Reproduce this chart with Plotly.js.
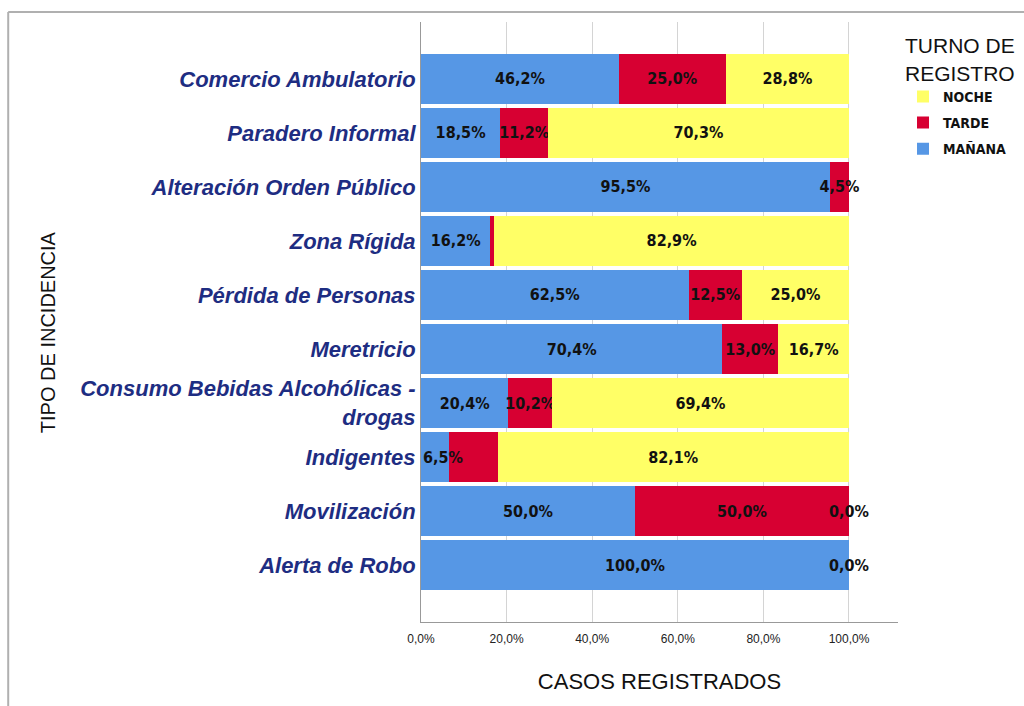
<!DOCTYPE html>
<html>
<head>
<meta charset="utf-8">
<script src="https://cdn.plot.ly/plotly-3.0.1.min.js"></script>
<style>
  html, body { margin: 0; padding: 0; background: #ffffff; }
  #chart { width: 1024px; height: 706px; }
</style>
</head>
<body>
<div id="chart"></div>
<script>
// Categories (top to bottom)
const categories = [
  'Comercio Ambulatorio',
  'Paradero Informal',
  'Alteración Orden Público',
  'Zona Rígida',
  'Pérdida de Personas',
  'Meretricio',
  'Consumo Bebidas Alcohólicas -<br>drogas',
  'Indigentes',
  'Movilización',
  'Alerta de Robo'
];

// Percentages per shift
const manana = [46.2, 18.5, 95.5, 16.2, 62.5, 70.4, 20.4, 6.5, 50.0, 100.0];
const tarde  = [25.0, 11.2, 4.5, 0.9, 12.5, 13.0, 10.2, 11.4, 50.0, 0.0];
const noche  = [28.8, 70.3, 0.0, 82.9, 25.0, 16.7, 69.4, 82.1, 0.0, 0.0];

// Which segments carry a visible label
const mananaLabel = [true, true, true, true, true, true, true, true, true, true];
const tardeLabel  = [true, true, true, false, true, true, true, false, true, false];
const nocheLabel  = [true, true, false, true, true, true, true, true, true, true];

// Axis ticks
const xTickVals = [0, 20, 40, 60, 80, 100];

const fmt = v => v.toFixed(1).replace('.', ',') + '%';

const barTextFont = { family: 'DejaVu Sans Condensed, DejaVu Sans, sans-serif', size: 16, weight: 'bold', color: '#111111' };

const series = [
  { name: 'MAÑANA', vals: manana, show: mananaLabel, color: '#5697E5', rank: 3 },
  { name: 'TARDE',  vals: tarde,  show: tardeLabel,  color: '#D70032', rank: 2 },
  { name: 'NOCHE',  vals: noche,  show: nocheLabel,  color: '#FFFF66', rank: 1 }
];

// Labels that cannot sit inside their bar (zero width, or too thin at the axis start)
// are drawn as annotations at the segment's position on the data axes.
const extraLabels = [];
const data = series.map((s, si) => {
  const text = s.vals.map((v, i) => {
    if (!s.show[i]) return '';
    let base = 0;
    for (let k = 0; k < si; k++) base += series[k].vals[i];
    if (v === 0) {
      extraLabels.push({ x: base, y: categories[i], text: fmt(v), xanchor: 'center' });
      return '';
    }
    if (base === 0 && v < 8) {
      extraLabels.push({ x: base, y: categories[i], text: fmt(v), xanchor: 'left' });
      return '';
    }
    return fmt(v);
  });
  return {
    type: 'bar',
    orientation: 'h',
    name: s.name,
    legendgroup: s.name,
    legendrank: s.rank,
    y: categories,
    x: s.vals,
    text: text,
    textposition: 'inside',
    insidetextanchor: 'middle',
    textangle: 0,
    constraintext: 'none',
    cliponaxis: false,
    textfont: barTextFont,
    insidetextfont: barTextFont,
    marker: { color: s.color, line: { width: 0 } },
    hoverinfo: 'name+x+y'
  };
});

const annotations = extraLabels.map(l => ({
  x: l.x, y: l.y, xref: 'x', yref: 'y',
  text: l.text,
  showarrow: false,
  xanchor: l.xanchor, yanchor: 'middle',
  font: barTextFont
}));

annotations.push({
  text: 'TIPO DE INCIDENCIA',
  xref: 'paper', yref: 'paper',
  x: -0.782, y: 0.483,
  xanchor: 'center', yanchor: 'middle',
  textangle: -90,
  showarrow: false,
  font: { family: 'Liberation Sans, Arial, sans-serif', size: 20, color: '#111111' }
});

const layout = {
  width: 1024,
  height: 706,
  margin: { l: 421, r: 126, t: 22, b: 84, autoexpand: false },
  paper_bgcolor: '#ffffff',
  plot_bgcolor: '#ffffff',
  barmode: 'stack',
  bargap: 0.09,
  showlegend: true,
  font: { family: 'Liberation Sans, Arial, sans-serif', color: '#111111' },
  xaxis: {
    range: [0, 111.45],
    tickvals: xTickVals,
    ticktext: xTickVals.map(v => fmt(v)),
    tickfont: { family: 'Liberation Sans, Arial, sans-serif', size: 12, color: '#222222' },
    ticklabelstandoff: 6,
    showgrid: true,
    gridcolor: '#d4d4d4',
    gridwidth: 1,
    zeroline: false,
    showline: true,
    linecolor: '#999999',
    linewidth: 1,
    ticks: '',
    fixedrange: true,
    title: {
      text: 'CASOS REGISTRADOS',
      font: { family: 'Liberation Sans, Arial, sans-serif', size: 22, color: '#111111' },
      standoff: 28
    }
  },
  yaxis: {
    type: 'category',
    categoryorder: 'array',
    categoryarray: categories,
    range: [10.055, -1.055],
    tickfont: { family: 'Liberation Sans, Arial, sans-serif', size: 22, weight: 'bold', style: 'italic', color: '#1E2D82' },
    showgrid: false,
    zeroline: false,
    showline: true,
    linecolor: '#999999',
    linewidth: 1,
    ticks: '',
    fixedrange: true
  },
  legend: {
    x: 1.0105,
    y: 0.993,
    xanchor: 'left',
    yanchor: 'top',
    traceorder: 'grouped',
    tracegroupgap: 5,
    bgcolor: 'rgba(0,0,0,0)',
    font: { family: 'DejaVu Sans Condensed, DejaVu Sans, sans-serif', size: 14, weight: 'bold', color: '#111111' },
    title: {
      text: 'TURNO DE<br>REGISTRO',
      side: 'top',
      font: { family: 'Liberation Sans, Arial, sans-serif', size: 21, weight: 'normal', color: '#111111' }
    }
  },
  annotations: annotations,
  shapes: [
    { type: 'line', xref: 'paper', yref: 'paper', x0: -0.8654, x1: 1.3, y0: 1.0167, y1: 1.0167, line: { color: '#b0b0b0', width: 2 } },
    { type: 'line', xref: 'paper', yref: 'paper', x0: -0.8654, x1: -0.8654, y0: 1.0167, y1: -0.2, line: { color: '#b0b0b0', width: 2 } }
  ]
};

Plotly.newPlot('chart', data, layout, { displayModeBar: false, staticPlot: true });
</script>
</body>
</html>
